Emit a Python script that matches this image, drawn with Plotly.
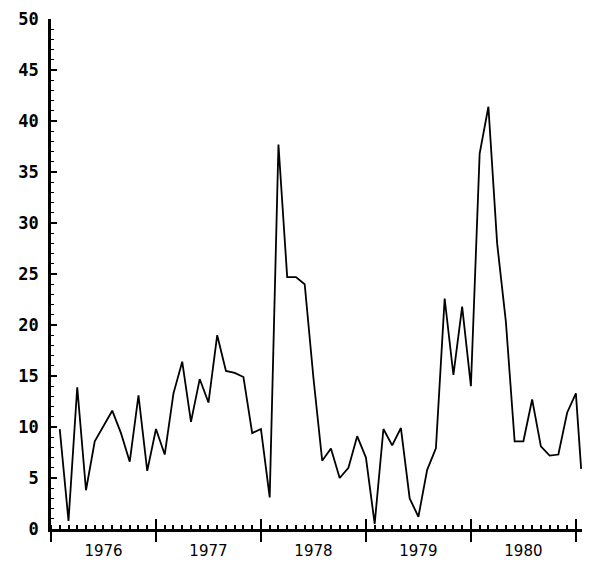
import plotly.graph_objects as go

# month index from start of 1976 (each unit = one month)
months = list(range(1, 61)) + [60.6]
values = [9.8, 0.8, 13.9, 3.8, 8.6, 10.1, 11.6, 9.4, 6.6, 13.1, 5.7, 9.8,
          7.3, 13.3, 16.4, 10.5, 14.7, 12.4, 19.0, 15.5, 15.3, 14.9, 9.4, 9.8,
          3.1, 37.7, 24.7, 24.7, 24.0, 14.8, 6.7, 7.9, 5.0, 6.0, 9.1, 7.0,
          0.5, 9.8, 8.2, 9.9, 3.0, 1.2, 5.8, 7.9, 22.6, 15.1, 21.8, 14.0,
          36.8, 41.4, 28.0, 20.3, 8.6, 8.6, 12.7, 8.1, 7.2, 7.3, 11.4, 13.3,
          5.9]
year_pos = [6, 18, 30, 42, 54]
year_labels = ["1976", "1977", "1978", "1979", "1980"]

xr = [0, 60.7]

fig = go.Figure()
fig.add_trace(go.Scatter(x=months, y=values, mode="lines",
                         line=dict(color="black", width=1.8),
                         hoverinfo="skip", showlegend=False))
# dummy traces to instantiate overlay axes
fig.add_trace(go.Scatter(x=[0], y=[0], xaxis="x2", mode="lines",
                         line=dict(width=0), hoverinfo="skip", showlegend=False))
fig.add_trace(go.Scatter(x=[0], y=[0], xaxis="x3", mode="lines",
                         line=dict(width=0), hoverinfo="skip", showlegend=False))

# page body has an 8px default margin, so the figure is sized to fit
fig.update_layout(
    width=592, height=558,
    margin=dict(l=43, r=18, t=11, b=37, autoexpand=False),
    plot_bgcolor="white", paper_bgcolor="white",
    showlegend=False,
    xaxis=dict(range=xr, showline=True, linecolor="black", linewidth=2.5,
               automargin=False,
               tickmode="linear", tick0=0, dtick=12,
               ticks="outside", ticklen=10, tickwidth=2, tickcolor="black",
               showticklabels=False, showgrid=False, zeroline=False,
               minor=dict(ticks="inside", ticklen=4, tickwidth=1.5,
                          tickcolor="black", tickmode="linear", tick0=0, dtick=1,
                          showgrid=False)),
    xaxis2=dict(range=xr, overlaying="x", anchor="y", side="bottom",
                automargin=False,
                tickmode="linear", tick0=0, dtick=12,
                ticks="inside", ticklen=10, tickwidth=2, tickcolor="black",
                showticklabels=False, showline=False, showgrid=False, zeroline=False),
    xaxis3=dict(range=xr, overlaying="x", anchor="y", side="bottom",
                automargin=False,
                tickmode="array", tickvals=year_pos, ticktext=year_labels,
                ticks="", showline=False, showgrid=False, zeroline=False,
                ticklabelstandoff=11,
                tickfont=dict(family="DejaVu Sans", size=15, color="black")),
    yaxis=dict(range=[0, 50], showline=True, linecolor="black", linewidth=2.5,
               automargin=False,
               tickmode="linear", tick0=0, dtick=5,
               ticks="inside", ticklen=6, tickwidth=2, tickcolor="black",
               showgrid=False, zeroline=False, ticklabelstandoff=6,
               tickfont=dict(family="DejaVu Sans Mono", size=17, color="black",
                             weight="bold"),
               minor=dict(ticks="inside", ticklen=3, tickwidth=1.2,
                          tickcolor="black", tickmode="linear", tick0=0, dtick=1,
                          showgrid=False)),
)

fig.write_html("out.html")
